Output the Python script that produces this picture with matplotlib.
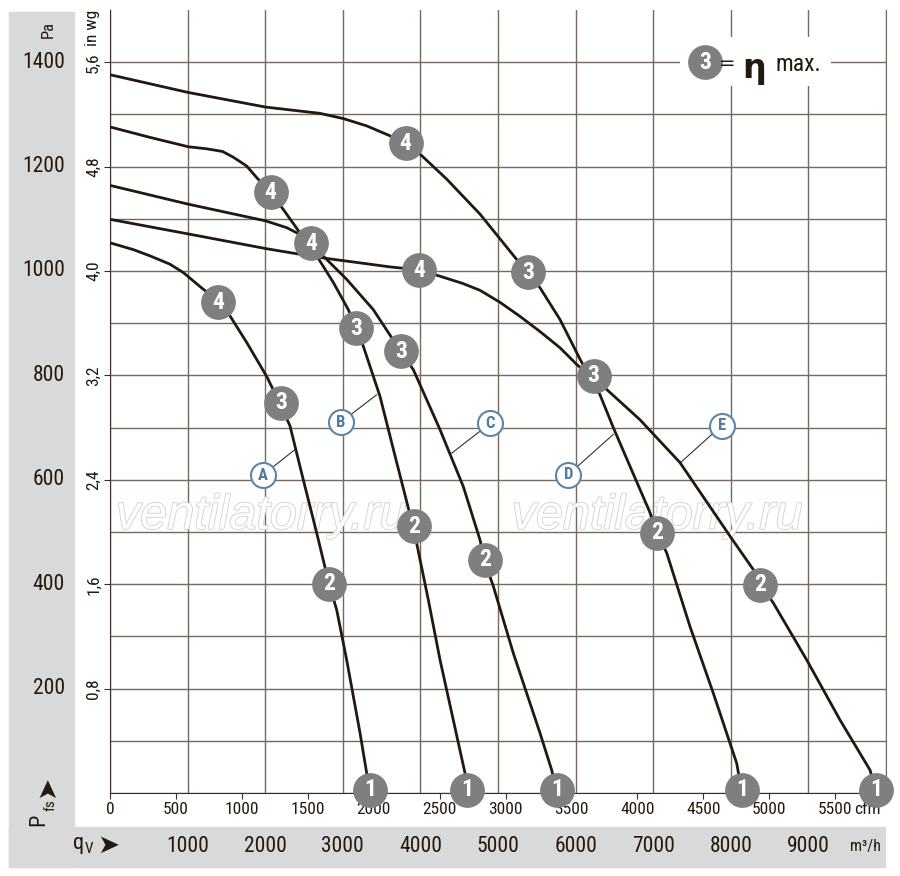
import matplotlib
matplotlib.use("Agg")
import matplotlib.pyplot as plt
import matplotlib.patheffects as pe
from matplotlib.patches import Rectangle

plt.rcParams['font.family'] = ['Roboto Condensed', 'Liberation Sans Narrow', 'Roboto', 'DejaVu Sans']

# characteristic curves, q_V in m3/h, p_fs in Pa
qv_a = [0, 300, 515, 773, 945, 1202, 1385, 1546, 1762, 2019, 2191, 2320, 2491, 2664, 2822, 2921, 3050, 3222, 3308, 3325]
pf_a = [1054, 1041, 1029, 1013, 997, 965, 945, 914, 863, 798, 746, 703, 600, 498, 401, 351, 255, 115, 38, 0]

qv_b = [0, 515, 1009, 1250, 1450, 1589, 1762, 1890, 2071, 2233, 2448, 2590, 2664, 2878, 3071, 3170, 3264, 3479, 3695, 3918, 4102, 4253, 4575, 4601]
pf_b = [1276, 1256, 1238, 1234, 1229, 1218, 1201, 1179, 1149, 1118, 1073, 1051, 1029, 978, 926, 891, 856, 760, 633, 503, 370, 255, 38, 0]

qv_c = [0, 1009, 2006, 2277, 2448, 2590, 2793, 3050, 3393, 3737, 3909, 4253, 4553, 4768, 4833, 4940, 5197, 5541, 5692, 5760]
pf_c = [1164, 1128, 1096, 1083, 1070, 1051, 1022, 984, 926, 848, 811, 696, 587, 485, 441, 396, 268, 115, 44, 0]

qv_d = [0, 1009, 2006, 2706, 3006, 3308, 3608, 3811, 3995, 4339, 4768, 5241, 5378, 5541, 5799, 6057, 6186, 6314, 6486, 6959, 7045, 7174, 7474, 7775, 8076, 8144]
pf_d = [1376, 1342, 1314, 1302, 1292, 1278, 1259, 1245, 1224, 1176, 1109, 1022, 997, 968, 907, 831, 796, 763, 700, 537, 500, 460, 319, 191, 57, 0]

qv_e = [0, 1009, 2006, 2448, 2793, 3200, 3600, 3986, 4253, 4549, 4768, 5026, 5284, 5541, 5799, 6014, 6401, 6830, 7345, 7990, 8290, 8385, 8548, 8978, 9407, 9794, 9880]
pf_e = [1099, 1071, 1043, 1032, 1024, 1016, 1008, 1002, 990, 976, 963, 940, 913, 884, 853, 821, 773, 715, 633, 492, 428, 399, 364, 255, 140, 44, 0]

# operating points 4, 3, 2, 1
op_labels = ['4', '3', '2', '1']
op_a_x = [1398, 2204, 2822, 3350]
op_a_y = [940, 748, 401, 6]
op_b_x = [2071, 3170, 3918, 4601]
op_b_y = [1151, 890, 511, 6]
op_c_x = [2590, 3750, 4833, 5760]
op_c_y = [1053, 846, 447, 6]
op_d_x = [3811, 5391, 7045, 8144]
op_d_y = [1245, 998, 499, 6]
op_e_x = [3982, 6233, 8375, 9871]
op_e_y = [1001, 799, 399, 6]

# curve letters: circle position and point on the curve
letters = ['A', 'B', 'C', 'D', 'E']
letter_x = [1968, 2973, 4897, 5906, 7883]
letter_y = [609, 710, 708, 610, 704]
leader_x = [2384, 3437, 4403, 6486, 7345]
leader_y = [658, 763, 651, 687, 632]

pa_ticks = [200, 400, 600, 800, 1000, 1200, 1400]
m3h_ticks = [1000, 2000, 3000, 4000, 5000, 6000, 7000, 8000, 9000]
inwg_ticks = [0.8, 1.6, 2.4, 3.2, 4.0, 4.8, 5.6]
inwg_labels = ['0,8', '1,6', '2,4', '3,2', '4,0', '4,8', '5,6']
cfm_ticks = [0, 500, 1000, 1500, 2000, 2500, 3000, 3500, 4000, 4500, 5000, 5500]

W, H = 900, 876
fig = plt.figure(figsize=(9, 8.76), dpi=100)

# grey bands (L shape)
fig.patches.append(Rectangle((9 / W, 1 - 867 / H), 65 / W, (867 - 12) / H,
                             transform=fig.transFigure, color='#d9d9d9', zorder=-1))
fig.patches.append(Rectangle((9 / W, 1 - 867 / H), (885 - 9) / W, 40 / H,
                             transform=fig.transFigure, color='#d9d9d9', zorder=-1))

ax = fig.add_axes([110 / W, 1 - 793 / H, 776 / W, 783 / H])
ax.set_xlim(0, 10000)
ax.set_ylim(0, 1500)

gridc = '#746a60'
txtc = '#22180e'
ax.set_xticks(range(0, 10001, 1000))
ax.set_yticks(range(0, 1401, 100))
ax.grid(True, color=gridc, linewidth=1.0)
ax.tick_params(length=0, labelbottom=False, labelleft=False)
ax.set_axisbelow(True)
ax.spines['top'].set_visible(False)
ax.spines['right'].set_color(gridc)
ax.spines['left'].set_color('#3a3028')
ax.spines['bottom'].set_color('#3a3028')

curve_c = '#22180e'
curves = [(qv_a, pf_a), (qv_b, pf_b), (qv_c, pf_c), (qv_d, pf_d), (qv_e, pf_e)]
for qv, pf in curves:
    ax.plot(qv, pf, color=curve_c, linewidth=2.0, zorder=4, solid_capstyle='round')

# watermark
for wx in [1950, 7050]:
    ax.text(wx, 530, 'ventilatorry.ru', fontsize=35, style='italic', family='Liberation Sans',
            color='white', ha='center', va='center', zorder=3,
            path_effects=[pe.Stroke(linewidth=1.2, foreground='#d0d0d0'), pe.Normal()])

# leader lines and letters
for lx, ly, cx, cy, t in zip(letter_x, letter_y, leader_x, leader_y, letters):
    ax.plot([lx, cx], [ly, cy], color='#3a3028', linewidth=0.8, zorder=3)
    ax.plot(lx, ly, 'o', ms=18, mfc='white', mec='#5b86a8', mew=1.5, zorder=5)
    ax.text(lx, ly, t, color='#4f7b9e', fontsize=12, fontweight='bold',
            ha='center', va='center', zorder=6)

# operating point markers
op_sets = [(op_a_x, op_a_y), (op_b_x, op_b_y), (op_c_x, op_c_y), (op_d_x, op_d_y), (op_e_x, op_e_y)]
for xs, ys in op_sets:
    for x, y, t in zip(xs, ys, op_labels):
        ax.plot(x, y, 'o', ms=24, mfc='#7f7f7f', mec='#7f7f7f', zorder=7, clip_on=False)
        ax.text(x, y, t, color='white', fontsize=17, fontweight='bold',
                ha='center', va='center', zorder=8, clip_on=False)

# legend box
ax.add_patch(Rectangle((7345, 1354), 1950, 94, facecolor='white', edgecolor='none', zorder=3))
ax.plot(7668, 1400, 'o', ms=24, mfc='#7f7f7f', mec='#7f7f7f', zorder=7)
ax.text(7668, 1400, '3', color='white', fontsize=17, fontweight='bold', ha='center', va='center', zorder=8)
ax.text(7850, 1398, '=', fontsize=14, color=txtc, ha='left', va='center',
        family='DejaVu Sans', zorder=8)
ax.text(8150, 1388, 'η', fontsize=24, color=txtc, ha='left', va='center',
        family='DejaVu Sans', fontweight='bold', zorder=8)
ax.text(8570, 1396, 'max.', fontsize=17, color=txtc, ha='left', va='center', zorder=8)

# Pa labels in grey band
ytr = ax.get_yaxis_transform()
for p in pa_ticks:
    ax.text(-0.058, p, str(p), transform=ytr, ha='right', va='center', fontsize=15.5, color=txtc)
ax.text(-0.08, 1463, 'Pa', transform=ytr, ha='center', va='center', rotation=90, fontsize=12, color=txtc)

# P_fs with arrow (rotated), in figure pixels
def fpx(x, y):
    return x / W, 1 - y / H

fig.text(*fpx(39, 820), 'P', rotation=90, ha='center', va='center', fontsize=16, color=txtc)
fig.text(*fpx(50, 805), 'fs', rotation=90, ha='center', va='center', fontsize=11, color=txtc)
fig.text(*fpx(47, 787), '➤', rotation=90, ha='center', va='center', fontsize=19,
         family='DejaVu Sans', color=txtc)

# m3/h labels in bottom band
xtr = ax.get_xaxis_transform()
for q in m3h_ticks:
    ax.text(q, -0.0677, str(q), transform=xtr, ha='center', va='center', fontsize=15.5, color=txtc)
fig.text(*fpx(79, 844), 'q', ha='center', va='center', fontsize=16, color=txtc)
fig.text(*fpx(89, 849), 'V', ha='center', va='center', fontsize=11, color=txtc)
fig.text(*fpx(108, 846), '➤', ha='center', va='center', fontsize=19,
         family='DejaVu Sans', color=txtc)
ax.text(9730, -0.068, 'm³/h', transform=xtr, ha='center', va='center', fontsize=11.5, color=txtc)

# secondary axis in wg
sec_y = ax.secondary_yaxis('left', functions=(lambda p: p / 250.0, lambda w: w * 250.0))
sec_y.set_yticks(inwg_ticks)
sec_y.set_yticklabels(inwg_labels, rotation=90, va='center', fontsize=12.5, color=txtc)
sec_y.tick_params(length=4.5, width=0.8, color='#3a3028', pad=2)
sec_y.spines['left'].set_visible(False)
ax.text(-0.023, 1466, 'in wg', transform=ytr, ha='center', va='center', rotation=90,
        fontsize=12.5, color=txtc)

# secondary axis cfm
sec_x = ax.secondary_xaxis('bottom', functions=(lambda q: q / 1.699, lambda c: c * 1.699))
sec_x.set_xticks(cfm_ticks)
sec_x.set_xticklabels([str(c) for c in cfm_ticks], fontsize=12.5, color=txtc)
sec_x.tick_params(length=4.5, width=0.8, color='#3a3028', pad=2)
sec_x.spines['bottom'].set_visible(False)
ax.text(9760, -0.021, 'cfm', transform=xtr, ha='center', va='center', fontsize=12.5, color=txtc)

fig.savefig('out.png', dpi=100)
